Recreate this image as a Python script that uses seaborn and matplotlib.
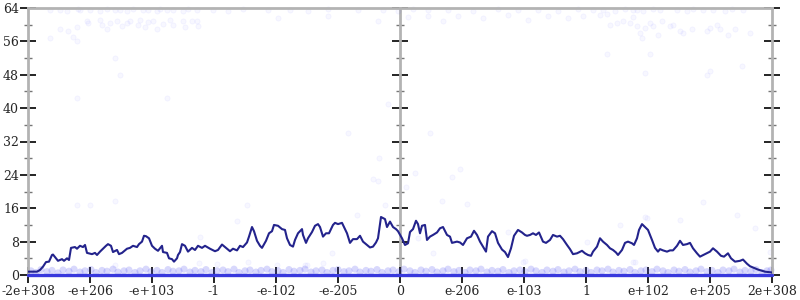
import matplotlib
matplotlib.use("Agg")
import matplotlib.pyplot as plt
from matplotlib.ticker import MultipleLocator
import seaborn as sns
import pandas as pd

# ---------------- data ----------------
tick_pos = [0, 62, 124, 186, 248, 310, 372, 434, 496, 558, 620, 682, 744]
tick_labels = ["-2e+308", "-e+206", "-e+103", "-1", "-e-102", "-e-205", "0",
               "e-206", "e-103", "1", "e+102", "e+205", "2e+308"]
y_ticks = [0, 8, 16, 24, 32, 40, 48, 56, 64]

# averaged error curve (index, bits)
error_curve = [
    (0,0.8),(9,0.8),(12,1.2),(15,2.0),(18,3.1),(21,3.2),(24,4.8),(25,4.9),(28,4.0),(30,3.4),
    (34,3.8),(36,3.4),(39,4.0),(41,3.6),(43,6.5),(47,6.7),(49,6.3),(52,7.0),(55,6.7),(57,7.2),
    (59,5.3),(64,5.0),(67,5.3),(69,4.8),(72,5.6),(75,6.3),(78,7.0),(80,7.4),(83,7.0),(85,5.5),
    (89,6.0),(91,5.0),(94,5.3),(99,6.3),(102,6.5),(105,7.0),(109,6.7),(111,7.4),(114,8.0),(116,9.4),
    (118,9.3),(121,8.8),(124,7.0),(127,6.3),(130,5.8),(134,7.0),(135,5.5),(139,5.3),(141,4.0),(144,3.8),
    (146,3.2),(149,4.0),(150,4.8),(152,5.5),(154,7.4),(157,7.0),(160,5.6),(164,6.5),(167,6.0),(170,7.0),
    (174,6.5),(177,7.0),(182,6.3),(187,5.7),(190,6.0),(194,7.3),(199,6.3),(202,5.7),(205,6.3),(209,5.9),
    (212,7.0),(215,6.7),(219,7.8),(221,9.2),(224,11.5),(226,10.5),(229,8.2),(232,7.0),(234,6.5),(238,8.2),
    (241,10.0),(244,10.5),(246,12.0),(250,11.8),(254,11.0),(257,10.8),(259,8.8),(262,7.2),(265,6.8),(267,8.4),
    (270,10.0),(274,11.0),(275,9.6),(278,7.7),(280,8.8),(284,10.3),(287,11.8),(290,12.2),(292,11.5),(295,9.2),
    (298,10.0),(301,10.0),(305,12.0),(307,12.5),(310,12.2),(314,12.5),(316,11.5),(319,10.0),(322,7.7),(325,8.6),
    (329,8.6),(332,9.4),(335,8.0),(339,7.2),(342,6.6),(345,6.8),(348,7.8),(350,8.8),(353,13.9),(357,13.4),
    (359,11.5),(362,12.8),(365,11.5),(368,11.0),(370,10.5),(374,8.8),(377,7.2),(380,7.6),(382,10.3),(385,11.0),
    (388,13.0),(390,12.2),(392,10.0),(394,11.8),(397,12.0),(399,8.4),(402,9.2),(405,9.6),(409,10.2),(412,11.2),
    (415,11.5),(419,9.6),(422,9.2),(424,7.7),(429,8.0),(432,7.8),(435,7.2),(439,8.8),(443,9.2),(446,10.6),
    (449,9.6),(452,8.0),(455,6.8),(458,5.6),(460,9.2),(464,10.5),(467,10.0),(470,7.7),(474,6.1),(477,5.5),
    (480,4.3),(483,6.4),(486,9.4),(490,10.8),(494,10.2),(497,9.6),(499,9.4),(502,9.6),(505,10.0),(508,9.6),
    (511,10.2),(515,8.0),(518,7.7),(522,8.4),(525,9.6),(529,9.2),(532,9.4),(535,8.6),(539,7.2),(542,6.2),
    (545,5.0),(549,5.2),(554,5.8),(557,5.2),(560,4.8),(563,4.6),(565,5.6),(569,6.8),(572,8.8),(575,8.0),
    (579,7.2),(582,6.4),(585,6.0),(588,5.4),(590,4.8),(594,6.0),(597,7.7),(600,8.0),(604,7.6),(606,7.2),
    (609,8.8),(611,10.8),(614,12.2),(617,11.5),(620,10.8),(622,9.6),(624,8.4),(627,6.5),(630,5.6),(632,6.2),
    (635,5.9),(639,5.6),(642,5.9),(645,5.9),(649,7.0),(652,8.2),(655,7.2),(659,7.4),(662,7.7),(665,6.4),
    (669,5.2),(672,4.4),(677,5.0),(682,5.6),(685,6.4),(689,5.6),(693,4.6),(696,4.4),(700,5.2),(703,4.0),
    (707,3.2),(712,3.4),(715,3.7),(719,2.7),(722,2.1),(725,1.8),(730,1.3),(737,0.8),(744,0.6),
]

# exact samples (error 0) form a continuous band
zero_x = [0, 744]
zero_y = [0, 0]

# samples with about one bit of error
low_samples = [
    (3,1.0),(8,0.6),(13,1.3),(19,0.8),(24,1.1),(30,0.5),(35,1.2),(41,0.9),(46,1.4),(52,0.7),(57,1.0),
    (63,1.3),(68,0.6),(74,1.1),(79,0.9),(85,1.4),(90,0.7),(96,1.0),(101,1.2),(107,0.6),(112,1.0),(118,1.4),
    (123,0.8),(129,1.1),(134,0.6),(140,1.3),(145,0.9),(151,1.0),(156,1.4),(162,0.7),(167,1.1),(173,0.8),
    (178,1.3),(184,0.6),(189,1.0),(195,1.2),(200,0.8),(206,1.4),(211,0.6),(217,1.0),(222,1.2),(228,0.7),
    (233,1.1),(239,1.4),(244,0.8),(250,1.0),(255,0.6),(261,1.3),(266,0.9),(272,1.1),(277,1.4),(283,0.7),
    (288,1.0),(294,1.2),(299,0.6),(305,1.1),(310,1.3),(316,0.8),(321,1.0),(327,1.4),(332,0.7),(338,1.1),
    (343,0.9),(349,1.3),(354,0.6),(360,1.0),(365,1.2),(371,0.8),(376,1.4),(382,1.0),(387,0.6),(393,1.2),
    (398,0.9),(404,1.3),(409,0.7),(415,1.0),(420,1.4),(426,0.8),(431,1.1),(437,0.6),(442,1.2),(448,1.0),
    (453,1.4),(459,0.7),(464,1.1),(470,0.9),(475,1.3),(481,0.6),(486,1.0),(492,1.2),(497,0.8),(503,1.4),
    (508,1.0),(514,0.6),(519,1.2),(525,0.9),(530,1.3),(536,0.7),(541,1.0),(547,1.4),(552,0.8),(558,1.1),
    (563,0.6),(569,1.2),(574,1.0),(580,1.4),(585,0.7),(591,1.1),(596,0.9),(602,1.3),(607,0.6),(613,1.0),
    (618,1.2),(624,0.8),(629,1.4),(635,1.0),(640,0.6),(646,1.2),(651,0.9),(657,1.3),(662,0.7),(668,1.0),
    (673,1.4),(679,0.8),(684,1.1),(690,0.6),(695,1.2),(701,1.0),(706,1.4),(712,0.7),(717,1.1),(723,0.9),
    (728,1.3),(734,0.6),(739,1.0),(743,1.2),
]

# samples with large error (mostly near 64 bits)
high_samples = [
    (22,63.5),(32,63.6),(39,63.4),(50,63.7),(52,63.5),(62,63.6),(72,63.4),(79,63.7),(87,63.5),(92,63.6),
    (99,63.4),(105,63.7),(115,63.5),(120,63.6),(129,63.4),(132,63.7),(139,63.5),(145,63.6),(155,63.4),(160,63.7),
    (169,63.5),(185,63.6),(200,63.4),(215,63.7),(240,63.5),(262,63.6),(280,63.4),(300,63.7),(330,63.5),(355,63.6),
    (370,63.4),(385,63.7),(400,63.5),(420,63.6),(445,63.4),(470,63.7),(490,63.5),(510,63.6),(530,63.4),(550,63.7),
    (565,63.5),(575,63.6),(587,63.4),(597,63.7),(605,63.5),(609,63.6),(615,63.4),(625,63.7),(632,63.5),(649,63.6),
    (659,63.4),(665,63.7),(675,63.5),(685,63.6),(697,63.4),(704,63.7),(715,63.5),
    (32,59.0),(40,58.4),(49,59.5),(59,61.0),(60,60.3),(72,61.2),(74,60.0),(79,59.0),(82,60.5),(89,61.0),
    (94,59.8),(99,60.3),(102,61.0),(110,60.0),(112,61.2),(117,59.5),(120,60.7),(125,61.0),(129,59.0),(135,60.2),
    (142,61.2),(145,60.0),(155,61.0),(157,59.5),(164,60.8),(169,61.0),(170,59.8),
    (250,61.5),(300,62.0),(350,61.0),(380,61.8),(400,62.2),(415,61.0),(430,62.0),(455,61.5),(480,62.3),
    (500,61.2),(520,62.0),(540,61.6),(555,62.2),
    (572,62.3),(579,62.5),(582,60.0),(589,60.4),(595,61.0),(602,60.4),(605,61.8),(609,59.6),(612,58.0),(614,56.8),
    (617,59.2),(622,60.4),(625,59.6),(630,57.6),(634,61.0),(642,59.6),(645,60.0),(652,58.5),(655,58.0),(664,58.9),
    (679,58.5),(682,59.3),(689,60.0),(692,58.9),(700,57.6),(707,58.9),(722,58.0),
    (22,56.8),(45,57.0),(49,56.0),(87,52.0),(92,48.0),(49,42.5),(139,42.5),
    (579,53.0),(622,53.0),(617,48.5),(682,49.0),(679,48.0),(714,50.0),
    (360,41.0),(320,34.0),(402,34.0),(351,28.0),(387,24.5),(345,23.0),(350,22.5),(432,25.4),(424,23.5),(378,21.0),
    (49,16.8),(62,16.8),(87,17.7),(219,16.8),(209,13.0),(357,16.8),(414,17.8),(439,17.0),(329,14.4),(304,5.3),
    (277,2.4),(495,3.1),(675,17.5),(652,13.2),(617,14.0),(709,14.4),(559,8.0),(605,3.1),(742,5.5),(87,2.4),
    (172,9.1),(171,2.9),(189,2.6),(220,3.1),(249,2.4),(279,2.4),(295,2.9),(390,8.9),(405,5.3),(480,10.3),
    (497,3.4),(592,12.0),(607,3.1),(619,13.7),(727,11.3),
]

curve_df = pd.DataFrame(error_curve, columns=["idx", "bits"])
low_df = pd.DataFrame(low_samples, columns=["idx", "bits"])
high_df = pd.DataFrame(high_samples, columns=["idx", "bits"])

# ---------------- drawing ----------------
sns.set_style("white")
plt.rcParams["font.family"] = ["DejaVu Serif"]

fig = plt.figure(figsize=(8, 3), dpi=100)
ax = fig.add_axes([28 / 800, 25 / 300, 744 / 800, 267 / 300])

sns.scatterplot(data=high_df, x="idx", y="bits", ax=ax, s=14,
                color=(0.3, 0.3, 1.0), alpha=0.045, edgecolor=(0.2, 0.2, 1.0),
                linewidth=0.6, zorder=2, clip_on=False, legend=False)
sns.scatterplot(data=low_df, x="idx", y="bits", ax=ax, s=26,
                color=(0.25, 0.25, 0.95), alpha=0.2, edgecolor="none",
                zorder=2, clip_on=False, legend=False)
sns.lineplot(x=zero_x, y=zero_y, ax=ax, color="#3838dd", linewidth=2.4,
             zorder=3, clip_on=False)
sns.lineplot(data=curve_df, x="idx", y="bits", ax=ax, color="#23238c",
             linewidth=1.5, zorder=5, sort=False, estimator=None)

ax.set_xlim(0, 744)
ax.set_ylim(0, 64)
ax.set_xlabel("")
ax.set_ylabel("")

ax.set_xticks(tick_pos)
ax.set_xticklabels(tick_labels)
ax.set_yticks(y_ticks)
ax.yaxis.set_minor_locator(MultipleLocator(4))

ax.tick_params(axis="x", which="major", direction="inout", length=11, width=1.2,
               color="black", labelsize=9, pad=1.5, bottom=True, top=False)
ax.tick_params(axis="y", which="major", direction="inout", length=11, width=1.2,
               color="black", labelsize=9, pad=1, left=True, right=True)
ax.tick_params(axis="y", which="minor", direction="inout", length=6, width=1,
               color="#777777", left=True, right=True)

for side in ["left", "right", "top", "bottom"]:
    ax.spines[side].set_color("#b3b3b3")
    ax.spines[side].set_linewidth(2)

# central axis at x = 0
mid = ax.secondary_yaxis(0.5)
mid.set_yticks(y_ticks)
mid.yaxis.set_minor_locator(MultipleLocator(4))
mid.tick_params(axis="y", which="major", direction="inout", length=11, width=1.2,
                color="black", labelleft=False, labelright=False)
mid.tick_params(axis="y", which="minor", direction="inout", length=6, width=1,
                color="#777777")
for sp in mid.spines.values():
    sp.set_color("#b3b3b3")
    sp.set_linewidth(2)

fig.savefig("out.png", dpi=100)
